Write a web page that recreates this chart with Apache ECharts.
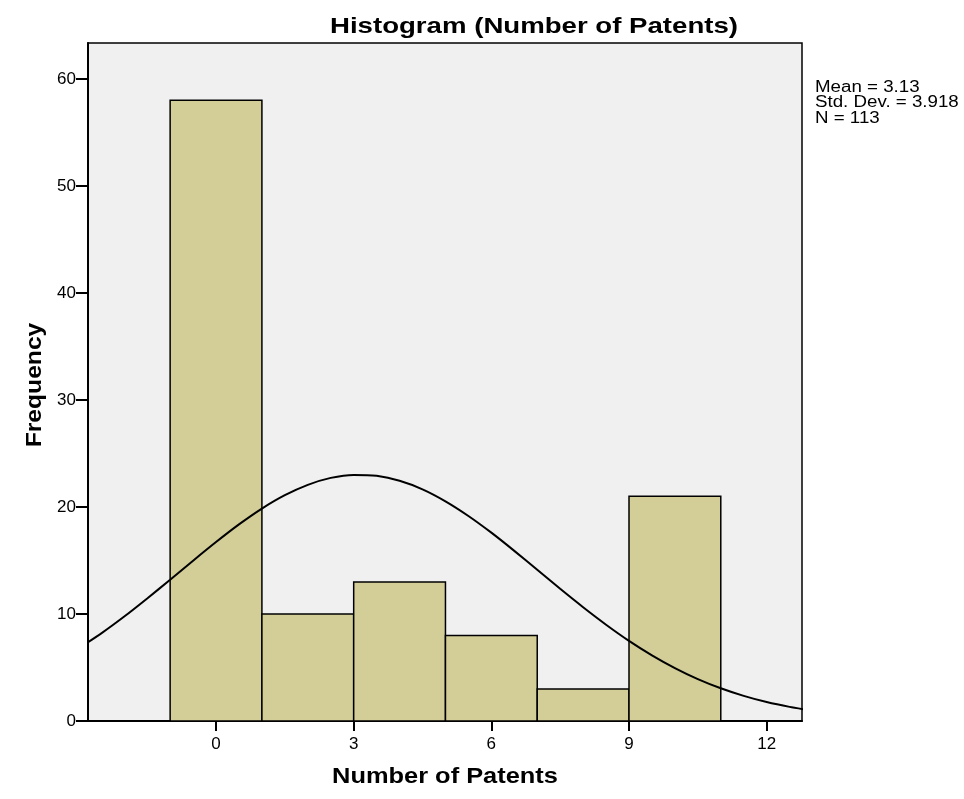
<!DOCTYPE html>
<html>
<head>
<meta charset="utf-8">
<script src="https://cdn.jsdelivr.net/npm/echarts@6/dist/echarts.min.js"></script>
<style>html,body{margin:0;padding:0;background:#fff}#c{width:964px;height:799px}</style>
</head>
<body>
<div id="c"></div>
<script>
// Histogram bins (bin start, bin end) and frequencies
var binStart = [-1, 1, 3, 5, 7, 9];
var binEnd = [1, 3, 5, 7, 9, 11];
var counts = [58, 10, 13, 8, 3, 21];
// Normal curve
var curveX = [-3, -2.5, -2, -1.5, -1, -0.5, 0, 0.5, 1, 1.5, 2, 2.5, 3, 3.5, 4, 4.5, 5, 5.5, 6, 6.5, 7, 7.5, 8, 8.5, 9, 9.5, 10, 10.5, 11, 11.5, 12, 12.5, 13];
var curveY = [6.77, 8.19, 9.76, 11.45, 13.20, 14.98, 16.72, 18.37, 19.85, 21.10, 22.07, 22.72, 23.00, 22.91, 22.45, 21.65, 20.53, 19.16, 17.60, 15.90, 14.13, 12.35, 10.63, 9.00, 7.49, 6.14, 4.95, 3.92, 3.06, 2.35, 1.77, 1.32, 0.96];
// Tick labels
var xTicks = [0, 3, 6, 9, 12];
var yTicks = [0, 10, 20, 30, 40, 50, 60];
var statsLines = ['Mean = 3.13', 'Std. Dev. = 3.918', 'N = 113'];

var barData = binStart.map(function (s, i) { return [s, binEnd[i], counts[i]]; });
var curveData = curveX.map(function (x, i) { return [x, curveY[i]]; });

var chart = echarts.init(document.getElementById('c'));
var FONT = '"Liberation Sans", Arial, sans-serif';
var option = {
  animation: false,
  backgroundColor: '#ffffff',
  grid: {
    left: 88, right: 162, top: 43, bottom: 78,
    show: true, backgroundColor: '#F0F0F0', borderColor: '#000', borderWidth: 1.5
  },
  xAxis: {
    type: 'value', min: -2.79, max: 12.77,
    axisLine: { show: true, onZero: false, lineStyle: { color: '#000', width: 2 } },
    axisTick: { show: true, customValues: xTicks, length: 10, lineStyle: { color: '#000', width: 2 } },
    axisLabel: { customValues: xTicks, margin: 15, color: '#000', fontSize: 17, fontFamily: FONT },
    splitLine: { show: false }
  },
  yAxis: {
    type: 'value', min: 0, max: 63.36,
    axisLine: { show: true, onZero: false, lineStyle: { color: '#000', width: 2 } },
    axisTick: { show: true, customValues: yTicks, length: 12, lineStyle: { color: '#000', width: 2 } },
    axisLabel: { customValues: yTicks, margin: 12, color: '#000', fontSize: 17, fontFamily: FONT },
    splitLine: { show: false }
  },
  series: [
    {
      type: 'custom',
      data: barData,
      encode: { x: [0, 1], y: 2 },
      clip: true,
      renderItem: function (params, api) {
        var p0 = api.coord([api.value(0), api.value(2)]);
        var p1 = api.coord([api.value(1), 0]);
        return {
          type: 'rect',
          shape: { x: p0[0], y: p0[1], width: p1[0] - p0[0], height: p1[1] - p0[1] },
          style: { fill: '#D3CE97', stroke: '#000', lineWidth: 1.5 }
        };
      },
      z: 2
    },
    {
      type: 'line',
      data: curveData,
      smooth: 0.2,
      showSymbol: false,
      clip: true,
      lineStyle: { color: '#000', width: 2 },
      z: 3
    }
  ],
  graphic: [
    {
      type: 'text', x: 534, y: 27, scaleX: 1.255,
      style: { text: 'Histogram (Number of Patents)', font: 'bold 22px ' + FONT, fill: '#000', textAlign: 'center', textVerticalAlign: 'middle' }
    },
    {
      type: 'text', x: 445, y: 777, scaleX: 1.155,
      style: { text: 'Number of Patents', font: 'bold 22px ' + FONT, fill: '#000', textAlign: 'center', textVerticalAlign: 'middle' }
    },
    {
      type: 'text', x: 35, y: 385, scaleX: 1.12, rotation: Math.PI / 2,
      style: { text: 'Frequency', font: 'bold 22px ' + FONT, fill: '#000', textAlign: 'center', textVerticalAlign: 'middle' }
    }
  ].concat(statsLines.map(function (t, i) {
    return {
      type: 'text', x: 815, y: 87.5 + i * 15.5, scaleX: 1.17,
      style: { text: t, font: '16px ' + FONT, fill: '#000', textAlign: 'left', textVerticalAlign: 'middle' }
    };
  }))
};
chart.setOption(option);
</script>
</body>
</html>
